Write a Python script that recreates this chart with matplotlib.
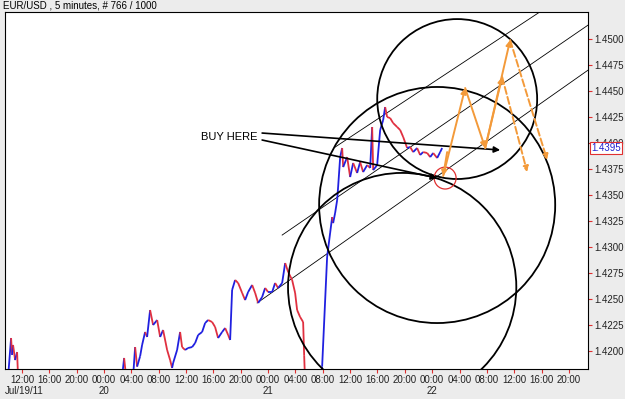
import matplotlib.pyplot as plt
import numpy as np
from matplotlib.collections import LineCollection
from matplotlib.patches import Ellipse
import matplotlib.transforms as mtransforms

plt.rcParams['font.family'] = ['Liberation Sans', 'DejaVu Sans']

# price path, hours since Jul/19 00:00 (values below 1.418 fall off the chart)
hours = [9.95, 10.39, 10.54, 10.68, 10.98, 11.27, 11.41,
         26.63, 26.93, 27.22, 28.24, 28.54, 28.83, 29.27, 29.56, 30.0, 30.29,
         30.73, 31.17, 31.76, 32.2, 32.63, 33.22, 33.66, 33.95, 34.1, 34.68,
         35.12, 35.41, 35.85, 36.29, 36.88, 37.32, 37.76, 38.34, 38.78, 39.22,
         39.8, 40.24, 40.68, 41.27, 41.71, 42.15, 42.44, 42.73, 43.17, 43.61,
         44.2, 44.63, 45.07, 45.66, 46.1, 46.54, 47.12, 47.56, 48.0, 48.59,
         49.02, 49.46, 50.05, 50.49, 50.93, 51.51, 51.95, 52.24, 52.68, 53.12,
         53.27, 53.41,
         55.76, 55.9, 56.63, 57.07, 57.37, 57.51, 57.8, 58.1, 58.24, 58.54,
         58.83, 58.98, 59.56, 60.0, 60.44, 61.02, 61.46, 61.9, 62.49, 62.93,
         63.22, 63.37, 63.95, 64.1, 64.39, 64.83, 65.12, 65.41, 65.85, 66.29,
         66.88, 67.32, 67.76, 68.34, 68.78, 69.22, 69.8, 70.24, 70.68, 71.27,
         71.71, 72.15, 72.73, 73.17, 73.46]
prices = [1.4175, 1.42125, 1.41962, 1.42058, 1.41913, 1.4199, 1.4175,
          1.4175, 1.41933, 1.4175, 1.4175, 1.42038, 1.4185, 1.4195, 1.42058,
          1.42183, 1.42135, 1.42394, 1.4225, 1.42298, 1.42135, 1.42202, 1.4201,
          1.41913, 1.41837, 1.41885, 1.4201, 1.42183, 1.42038, 1.4201, 1.42029,
          1.42038, 1.42077, 1.42154, 1.42183, 1.42269, 1.42298, 1.42279,
          1.42231, 1.42125, 1.42183, 1.42221, 1.42154, 1.42106, 1.42587,
          1.42683, 1.42654, 1.42558, 1.4249, 1.42567, 1.42635, 1.42558,
          1.42462, 1.42519, 1.42606, 1.42567, 1.42567, 1.42654, 1.42606,
          1.42654, 1.42846, 1.4276, 1.42683, 1.42558, 1.42394, 1.42327,
          1.42279, 1.4196, 1.417,
          1.417, 1.4185, 1.42904, 1.43135, 1.43288, 1.4323, 1.43327, 1.43452,
          1.43577, 1.43865, 1.43952, 1.43769, 1.43865, 1.43673, 1.43808,
          1.43712, 1.43817, 1.43721, 1.43788, 1.4376, 1.44154, 1.4374, 1.43788,
          1.43904, 1.44125, 1.44221, 1.44346, 1.4425, 1.4424, 1.44192, 1.44154,
          1.44125, 1.44058, 1.43952, 1.43962, 1.43913, 1.43952, 1.43885,
          1.43913, 1.43904, 1.43865, 1.43904, 1.43856, 1.43913, 1.43952]
last_price = 1.4395

hour_ticks = [12, 16, 20, 24, 28, 32, 36, 40, 44, 48, 52, 56, 60, 64, 68,
              72, 76, 80, 84, 88, 92]
day_hours = [24, 48, 72]
day_labels = ['20', '21', '22']
price_ticks = [1.4200, 1.4225, 1.4250, 1.4275, 1.4300, 1.4325, 1.4350,
               1.4375, 1.4400, 1.4425, 1.4450, 1.4475, 1.4500]

# drawn annotations: (hour, price)
circles = [(75.66, 1.44423, 11.7), (72.73, 1.43404, 17.27),
           (67.61, 1.42615, 16.7)]
red_circle = (73.9, 1.43663, 1.6)
channel = [((57.8, 1.43961), (87.95, 1.45269)),
           ((50.05, 1.43115), (94.83, 1.45135)),
           ((46.39, 1.42462), (94.83, 1.44702))]
buy_arrows = [((47.12, 1.44096), (81.95, 1.43933)),
              ((47.12, 1.44029), (72.73, 1.43663))]
orange_solid = [((74.19, 1.43913), (73.61, 1.43683)),
                ((73.61, 1.43683), (76.83, 1.44529)),
                ((76.83, 1.44529), (79.76, 1.43952)),
                ((79.76, 1.43952), (82.24, 1.44635)),
                ((79.76, 1.43952), (83.41, 1.4499))]
orange_dashed = [((83.41, 1.4499), (88.83, 1.43836)),
                 ((82.24, 1.44635), (85.9, 1.43721))]

xlim = (9.5, 94.8)
ylim = (1.41827, 1.4526)

fig = plt.figure(figsize=(6.25, 3.99), dpi=100, facecolor='#ECECEC')
ax = fig.add_axes([5 / 625, 30 / 399, 583 / 625, 357 / 399])
ax.set_facecolor('white')
ax.set_xlim(*xlim)
ax.set_ylim(*ylim)

# price line, blue on the way up, red on the way down
pts = np.column_stack([hours, prices])
segs = np.stack([pts[:-1], pts[1:]], axis=1)
cols = ['#2020e0' if b >= a else '#e03040' for a, b in zip(prices[:-1], prices[1:])]
ax.add_collection(LineCollection(segs, colors=cols, linewidths=1.3, zorder=3))

# circles drawn round on screen
px_h = 583 / (xlim[1] - xlim[0])
px_p = 357 / (ylim[1] - ylim[0])
for cx, cy, r in circles:
    ax.add_patch(Ellipse((cx, cy), 2 * r, 2 * r * px_h / px_p, fill=False,
                         ec='black', lw=1.3, zorder=4))
cx, cy, r = red_circle
ax.add_patch(Ellipse((cx, cy), 2 * r, 2 * r * px_h / px_p, fill=False,
                     ec='#e03030', lw=0.9, zorder=5))

for (x0, y0), (x1, y1) in channel:
    ax.plot([x0, x1], [y0, y1], color='black', lw=0.6, zorder=2)

for start, end in buy_arrows:
    ax.annotate('', xy=end, xytext=start,
                arrowprops=dict(arrowstyle='-|>', color='black', lw=1.2,
                                mutation_scale=9, shrinkA=0, shrinkB=0), zorder=6)
ax.text(42.3, 1.44058, 'BUY HERE', fontsize=8, ha='center', va='center')

for start, end in orange_solid:
    ax.annotate('', xy=end, xytext=start,
                arrowprops=dict(arrowstyle='-|>', color='#f39a3a', lw=1.4,
                                mutation_scale=8, shrinkA=0, shrinkB=0), zorder=7)
for start, end in orange_dashed:
    ax.annotate('', xy=end, xytext=start,
                arrowprops=dict(arrowstyle='-|>', color='#f39a3a', lw=1.4,
                                ls='--', mutation_scale=8, shrinkA=0, shrinkB=0),
                zorder=7)

# axes cosmetics
for s in ax.spines.values():
    s.set_color('black')
    s.set_linewidth(0.8)
ax.yaxis.tick_right()
ax.set_yticks(price_ticks)
ax.set_yticklabels(['%.4f' % p for p in price_ticks])
ax.set_xticks(hour_ticks)
ax.set_xticklabels(['%02d:00' % (h % 24) for h in hour_ticks])
ax.tick_params(axis='both', colors='#e03030', labelcolor='#222222',
               labelsize=7, length=3, width=0.8, pad=1.5)

trans = mtransforms.blended_transform_factory(ax.transData, ax.transAxes)
for h, lab in zip(day_hours, day_labels):
    ax.text(h, -0.062, lab, transform=trans, fontsize=7, ha='center',
            va='center', color='#222222')
ax.text(0, -0.062, 'Jul/19/11', transform=ax.transAxes, fontsize=7,
        ha='left', va='center', color='#222222')

ptrans = mtransforms.blended_transform_factory(ax.transAxes, ax.transData)
ax.text(1.006, last_price, '%.4f' % last_price, transform=ptrans, fontsize=7,
        color='#2020d0', ha='left', va='center', zorder=10,
        bbox=dict(boxstyle='square,pad=0.12', fc='white', ec='#e03030', lw=0.8))

fig.text(3 / 625, 1 - 6 / 399, 'EUR/USD , 5 minutes, # 766 / 1000',
         fontsize=7, va='center', ha='left')

fig.savefig('out.png', dpi=100, facecolor=fig.get_facecolor())
